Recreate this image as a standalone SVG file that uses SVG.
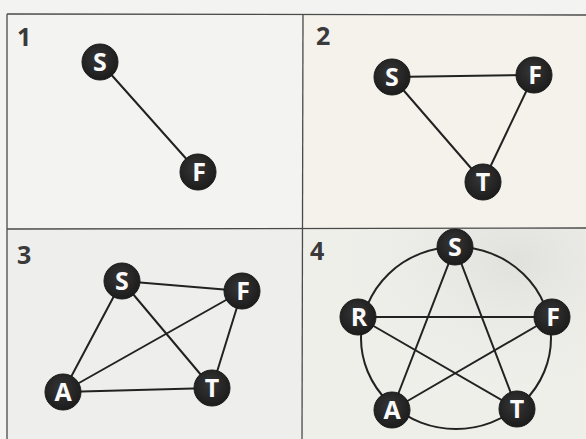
<svg xmlns="http://www.w3.org/2000/svg" width="586" height="439" viewBox="0 0 586 439">
  <defs>
    <radialGradient id="speck" cx="0.75" cy="0.15" r="0.7">
      <stop offset="0" stop-color="#e0e0dc"/>
      <stop offset="1" stop-color="#efefeb" stop-opacity="0"/>
    </radialGradient>
    <radialGradient id="nodefill" cx="0.45" cy="0.4" r="0.6">
      <stop offset="0" stop-color="#363636"/>
      <stop offset="1" stop-color="#1c1c1c"/>
    </radialGradient>
  </defs>
  <style>
    .frame { stroke: #4a4a4a; stroke-width: 1.3; fill: none; }
    .edge { stroke: #222; stroke-width: 2; fill: none; stroke-linecap: round; }
    .node circle { fill: url(#nodefill); stroke: #1a1a1a; stroke-width: 1; }
    .node text { fill: #fafafa; font-family: "Open Sans", "DejaVu Sans", sans-serif; font-weight: bold; font-size: 25px; text-anchor: middle; }
    .num { fill: #3a3a3a; font-family: "Open Sans", "DejaVu Sans", sans-serif; font-weight: bold; font-size: 25px; }
  </style>

  <!-- backgrounds -->
  <rect x="0" y="0" width="586" height="439" fill="#f3f3f1"/>
  <rect x="303" y="14" width="283" height="215" fill="#f4f2ea"/>
  <rect x="7" y="229" width="296" height="210" fill="#eeeeec"/>
  <rect x="303" y="229" width="283" height="210" fill="#efefea"/>
  <rect x="303" y="229" width="283" height="210" fill="url(#speck)"/>

  <!-- frame -->
  <g id="frame">
    <line class="frame" x1="7" y1="14" x2="586" y2="15"/>
    <line class="frame" x1="7" y1="14" x2="7" y2="439"/>
    <line class="frame" x1="303" y1="14" x2="302" y2="439"/>
    <line class="frame" x1="7" y1="229" x2="586" y2="228"/>
  </g>

  <!-- panel numbers -->
  <text class="num" x="17" y="46" fill="#555">1</text>
  <text class="num" x="316" y="45">2</text>
  <text class="num" x="17" y="264">3</text>
  <text class="num" x="310" y="260">4</text>

  <!-- connectors -->
  <g id="connectors">
    <!-- panel 1 -->
    <line class="edge" x1="100" y1="62" x2="198" y2="172"/>
    <!-- panel 2 -->
    <line class="edge" x1="392" y1="77" x2="534" y2="75"/>
    <line class="edge" x1="392" y1="77" x2="483" y2="182"/>
    <line class="edge" x1="534" y1="75" x2="483" y2="182"/>
    <!-- panel 3 -->
    <line class="edge" x1="122" y1="281" x2="242" y2="291"/>
    <line class="edge" x1="122" y1="281" x2="63" y2="392"/>
    <line class="edge" x1="122" y1="281" x2="212" y2="388"/>
    <line class="edge" x1="242" y1="291" x2="63" y2="392"/>
    <line class="edge" x1="242" y1="291" x2="212" y2="388"/>
    <line class="edge" x1="63" y1="392" x2="212" y2="388"/>
    <!-- panel 4 -->
    <ellipse class="edge" cx="456" cy="338" rx="95" ry="91"/>
    <line class="edge" x1="455" y1="247" x2="392" y2="410"/>
    <line class="edge" x1="455" y1="247" x2="517" y2="409"/>
    <line class="edge" x1="358" y1="317" x2="552" y2="317"/>
    <line class="edge" x1="358" y1="317" x2="517" y2="409"/>
    <line class="edge" x1="552" y1="317" x2="392" y2="410"/>
  </g>

  <!-- panel 1 nodes -->
  <g id="p1-S" class="node"><circle cx="100" cy="62" r="18"/><text x="100" y="71">S</text></g>
  <g id="p1-F" class="node"><circle cx="198" cy="172" r="18"/><text x="199" y="181">F</text></g>

  <!-- panel 2 nodes -->
  <g id="p2-S" class="node"><circle cx="392" cy="77" r="18"/><text x="392" y="86">S</text></g>
  <g id="p2-F" class="node"><circle cx="534" cy="75" r="18"/><text x="535" y="84">F</text></g>
  <g id="p2-T" class="node"><circle cx="483" cy="182" r="18"/><text x="483" y="191">T</text></g>

  <!-- panel 3 nodes -->
  <g id="p3-S" class="node"><circle cx="122" cy="281" r="18"/><text x="122" y="290">S</text></g>
  <g id="p3-F" class="node"><circle cx="242" cy="291" r="18"/><text x="243" y="300">F</text></g>
  <g id="p3-A" class="node"><circle cx="63" cy="392" r="18"/><text x="63" y="401">A</text></g>
  <g id="p3-T" class="node"><circle cx="212" cy="388" r="18"/><text x="212" y="397">T</text></g>

  <!-- panel 4 nodes -->
  <g id="p4-S" class="node"><circle cx="455" cy="247" r="18"/><text x="455" y="256">S</text></g>
  <g id="p4-R" class="node"><circle cx="358" cy="317" r="18"/><text x="359" y="326">R</text></g>
  <g id="p4-F" class="node"><circle cx="552" cy="317" r="18"/><text x="553" y="326">F</text></g>
  <g id="p4-A" class="node"><circle cx="392" cy="410" r="18"/><text x="392" y="419">A</text></g>
  <g id="p4-T" class="node"><circle cx="517" cy="409" r="18"/><text x="517" y="418">T</text></g>
</svg>
